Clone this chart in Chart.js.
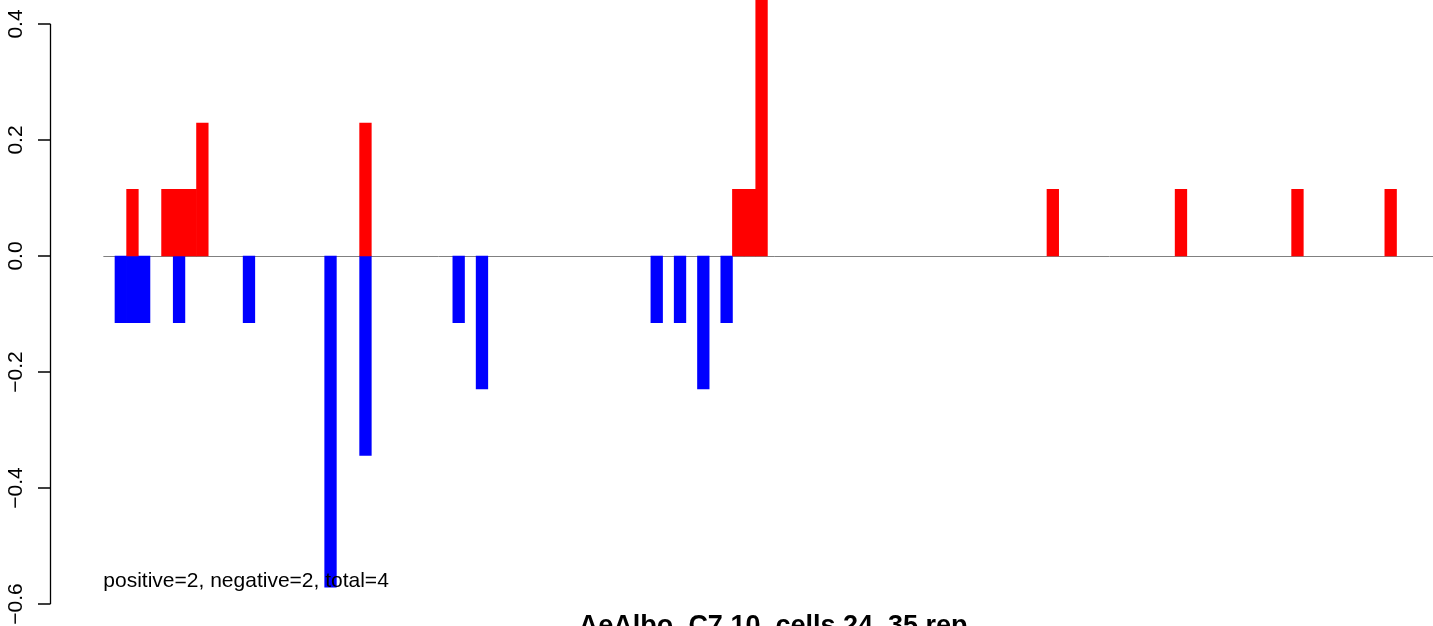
<!DOCTYPE html>
<html>
<head>
<meta charset="utf-8">
<script src="https://cdn.jsdelivr.net/npm/chart.js@4"></script>
<style>
  html, body { margin: 0; padding: 0; background: #fff; overflow: hidden; }
  canvas { display: block; }
</style>
</head>
<body>
<canvas id="barChart" width="1445" height="626"></canvas>
<script>
// bins along the x direction (no labels shown)
const binCount = 115;
const binLabels = Array.from({ length: binCount }, (_, i) => String(i));

// positive (red) bars: bin index and value
const posBins   = [2, 5, 6, 7, 8, 22, 54, 55, 56, 81, 92, 102, 110];
const posValues = [0.115, 0.115, 0.115, 0.115, 0.229, 0.229, 0.115, 0.115, 0.459, 0.115, 0.115, 0.115, 0.115];

// negative (blue) bars
const negBins   = [1, 2, 3, 6, 12, 19, 22, 30, 32, 47, 49, 51, 53];
const negValues = [-0.115, -0.115, -0.115, -0.115, -0.115, -0.571, -0.344, -0.115, -0.229, -0.115, -0.115, -0.229, -0.115];

const yTicks = [-0.6, -0.4, -0.2, 0.0, 0.4, 0.2];
const yTickLabels = ['\u22120.6', '\u22120.4', '\u22120.2', '0.0', '0.4', '0.2'];

const noteText = 'positive=2, negative=2, total=4';
const titleText = 'AeAlbo_C7.10_cells.24_35.rep';

function spread(bins, vals) {
  const out = new Array(binCount).fill(null);
  bins.forEach((b, i) => { out[b] = vals[i]; });
  return out;
}

// R-style axis, zero line and texts drawn from the scales
const rStyle = {
  id: 'rStyle',
  beforeDatasetsDraw(chart) {
    const { ctx, chartArea } = chart;
    const y0 = chart.scales.y.getPixelForValue(0);
    ctx.save();
    ctx.strokeStyle = '#808080';
    ctx.lineWidth = 1;
    ctx.beginPath();
    ctx.moveTo(chartArea.left, Math.round(y0) + 0.5);
    ctx.lineTo(chart.width, Math.round(y0) + 0.5);
    ctx.stroke();
    ctx.restore();
  },
  afterDraw(chart) {
    const { ctx, chartArea } = chart;
    const ys = chart.scales.y;
    const axisX = 50.5;
    const tTop = ys.getPixelForValue(Math.max(...yTicks));
    const tBot = ys.getPixelForValue(Math.min(...yTicks));
    ctx.save();
    ctx.strokeStyle = '#000';
    ctx.lineWidth = 1.3;
    ctx.beginPath();
    ctx.moveTo(axisX, tTop);
    ctx.lineTo(axisX, tBot);
    yTicks.forEach(v => {
      const p = ys.getPixelForValue(v);
      ctx.moveTo(axisX, p);
      ctx.lineTo(38, p);
    });
    ctx.stroke();

    ctx.fillStyle = '#000';
    ctx.font = '21px "Liberation Sans", Arial, sans-serif';
    ctx.textAlign = 'center';
    ctx.textBaseline = 'alphabetic';
    yTicks.forEach((v, i) => {
      const p = ys.getPixelForValue(v);
      ctx.save();
      ctx.translate(22, p);
      ctx.rotate(-Math.PI / 2);
      ctx.fillText(yTickLabels[i], 0, 0);
      ctx.restore();
    });

    ctx.textAlign = 'left';
    ctx.fillText(noteText, chartArea.left, 587);

    ctx.font = 'bold 27px "Liberation Sans", Arial, sans-serif';
    ctx.textAlign = 'center';
    ctx.fillText(titleText, (chartArea.left + chartArea.right) / 2, 634);
    ctx.restore();
  }
};

new Chart(document.getElementById('barChart'), {
  type: 'bar',
  data: {
    labels: binLabels,
    datasets: [
      { label: 'positive', data: spread(posBins, posValues), backgroundColor: '#ff0000', borderWidth: 0 },
      { label: 'negative', data: spread(negBins, negValues), backgroundColor: '#0000ff', borderWidth: 0 }
    ]
  },
  options: {
    responsive: false,
    animation: false,
    layout: { padding: { left: 103.35, right: 1.9, top: 0, bottom: 0 } },
    datasets: { bar: { barPercentage: 1, categoryPercentage: 1 } },
    scales: {
      x: { display: false, stacked: true },
      y: { display: false, stacked: true, min: -0.63793, max: 0.44138 }
    },
    plugins: { legend: { display: false }, tooltip: { enabled: false } }
  },
  plugins: [rStyle]
});
</script>
</body>
</html>
